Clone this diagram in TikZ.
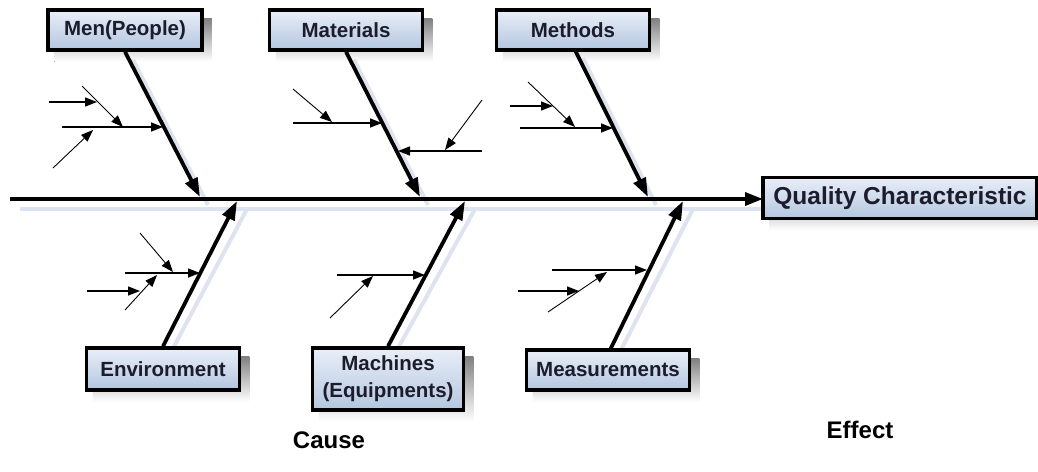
\documentclass[tikz,border=0pt]{standalone}
\usepackage{fontspec}
\setmainfont{Liberation Sans}
\usetikzlibrary{arrows.meta}
\pgfdeclarelayer{bg}
\pgfsetlayers{bg,main}
\definecolor{boxtop}{HTML}{E9EFF8}
\definecolor{boxbot}{HTML}{B3C6DF}
\definecolor{shade}{HTML}{DDE4EF}
\definecolor{ink}{HTML}{1C1C2C}
\tikzset{
  cat/.style={draw=black, line width=3.5pt, top color=boxtop, bottom color=boxbot,
    text=ink, font=\fontsize{20.5}{27}\selectfont\bfseries, inner sep=0pt,
    align=center, minimum height=40pt},
  spine/.style={line width=3.5pt, -{Triangle[length=18pt,width=13pt]}},
  bone/.style={line width=3.8pt, -{Triangle[length=19pt,width=13pt]}},
  twig/.style={line width=1.4pt, -{Triangle[length=12pt,width=9pt]}},
  fine/.style={line width=0.9pt, -{Triangle[length=12pt,width=9pt]}},
  boneshadow/.style={draw=shade, line width=4pt},
  caption/.style={font=\fontsize{24}{28}\selectfont\bfseries, text=black}
}
\begin{document}
\begin{tikzpicture}[x=1pt,y=-1pt]
\useasboundingbox (0,0) rectangle (1038,471);

% category boxes
\node[cat, minimum width=154pt] (men) at (125,30) {Men(People)};
\node[cat, minimum width=153pt] (mat) at (346,30) {Materials};
\node[cat, minimum width=153pt] (met) at (573,30) {Methods};
\node[cat, minimum width=153pt, minimum height=42pt] (env) at (163,369) {Environment};
\node[cat, minimum width=151pt, minimum height=62pt] (mac) at (388,379) {Machines\\(Equipments)};
\node[cat, minimum width=163pt] (mea) at (608,370) {Measurements};
\node[cat, minimum width=274pt, minimum height=41pt,
      font=\fontsize{24.5}{28}\selectfont\bfseries] (qc) at (900,198) {Quality Characteristic};

% ends of the spine and bones
\coordinate (s0) at (10,199);
\coordinate (tmen) at (200,197);
\coordinate (tmat) at (420,197);
\coordinate (tmet) at (648,197);
\coordinate (tenv) at (237,201);
\coordinate (tmac) at (465,201);
\coordinate (tmea) at (683,201);
\coordinate (bmet) at (575,50);
\coordinate (bmea) at (610,350);
\coordinate (qcin) at (763,199);

% drop shadows
\begin{pgfonlayer}{bg}
  \foreach \n in {men,mat,met,env,mac,mea,qc}
    \fill[shade] ([shift={(8,10)}]\n.north west) rectangle ([shift={(8,10)}]\n.south east);
  \draw[boneshadow] ([shift={(10,10)}]s0) -- ([shift={(0,10)}]qcin);
  \draw[boneshadow] ([shift={(8,8)}]men.south) -- ([shift={(8,8)}]tmen);
  \draw[boneshadow] ([shift={(8,8)}]mat.south) -- ([shift={(8,8)}]tmat);
  \draw[boneshadow] ([shift={(8,8)}]bmet) -- ([shift={(8,8)}]tmet);
  \draw[boneshadow] ([shift={(10,2)}]env.north) -- ([shift={(10,8)}]tenv);
  \draw[boneshadow] ([shift={(10,2)}]mac.north) -- ([shift={(10,8)}]tmac);
  \draw[boneshadow] ([shift={(10,2)}]bmea) -- ([shift={(10,8)}]tmea);
\end{pgfonlayer}

% spine
\draw[spine] (s0) -- (qcin);

% main bones
\draw[bone] (men.south) -- (tmen);
\draw[bone] (mat.south) -- (tmat);
\draw[bone] (bmet) -- (tmet);
\draw[bone] (env.north) -- (tenv);
\draw[bone] (mac.north) -- (tmac);
\draw[bone] (bmea) -- (tmea);

% Men(People) causes
\coordinate (a1) at (62,127);   \coordinate (a1t) at (163,127);
\coordinate (a2) at (82,86);    \coordinate (a2t) at (123,127);
\coordinate (a3) at (49,102);   \coordinate (a3t) at (97,102);
\coordinate (a4) at (53,168);   \coordinate (a4t) at (93,130);
\draw[twig] (a1) -- (a1t);
\draw[fine] (a2) -- (a2t);
\draw[twig] (a3) -- (a3t);
\draw[fine] (a4) -- (a4t);

% Materials causes
\coordinate (b1) at (293,123);  \coordinate (b1t) at (382,123);
\coordinate (b2) at (293,89);   \coordinate (b2t) at (332,122);
\coordinate (b3) at (482,151);  \coordinate (b3t) at (398,151);
\coordinate (b4) at (482,100);  \coordinate (b4t) at (445,150);
\draw[twig] (b1) -- (b1t);
\draw[fine] (b2) -- (b2t);
\draw[twig] (b3) -- (b3t);
\draw[fine] (b4) -- (b4t);

% Methods causes
\coordinate (c1) at (520,128);  \coordinate (c1t) at (613,128);
\coordinate (c2) at (528,82);   \coordinate (c2t) at (575,127);
\coordinate (c3) at (510,106);  \coordinate (c3t) at (553,106);
\draw[twig] (c1) -- (c1t);
\draw[fine] (c2) -- (c2t);
\draw[twig] (c3) -- (c3t);

% Environment causes
\coordinate (d1) at (125,273);  \coordinate (d1t) at (200,273);
\coordinate (d2) at (140,233);  \coordinate (d2t) at (173,272);
\coordinate (d3) at (125,310);  \coordinate (d3t) at (157,275);
\coordinate (d4) at (87,291);   \coordinate (d4t) at (140,291);
\draw[twig] (d1) -- (d1t);
\draw[fine] (d2) -- (d2t);
\draw[fine] (d3) -- (d3t);
\draw[twig] (d4) -- (d4t);

% Machines causes
\coordinate (e1) at (337,275);  \coordinate (e1t) at (425,275);
\coordinate (e2) at (330,318);  \coordinate (e2t) at (373,276);
\draw[twig] (e1) -- (e1t);
\draw[fine] (e2) -- (e2t);

% Measurements causes
\coordinate (f1) at (552,270);  \coordinate (f1t) at (647,270);
\coordinate (f2) at (548,312);  \coordinate (f2t) at (607,272);
\coordinate (f3) at (518,291);  \coordinate (f3t) at (579,291);
\draw[twig] (f1) -- (f1t);
\draw[fine] (f2) -- (f2t);
\draw[twig] (f3) -- (f3t);

% captions
\node[caption] (cause) at (329,440) {Cause};
\node[caption] (effect) at (860,430) {Effect};
\end{tikzpicture}
\end{document}
